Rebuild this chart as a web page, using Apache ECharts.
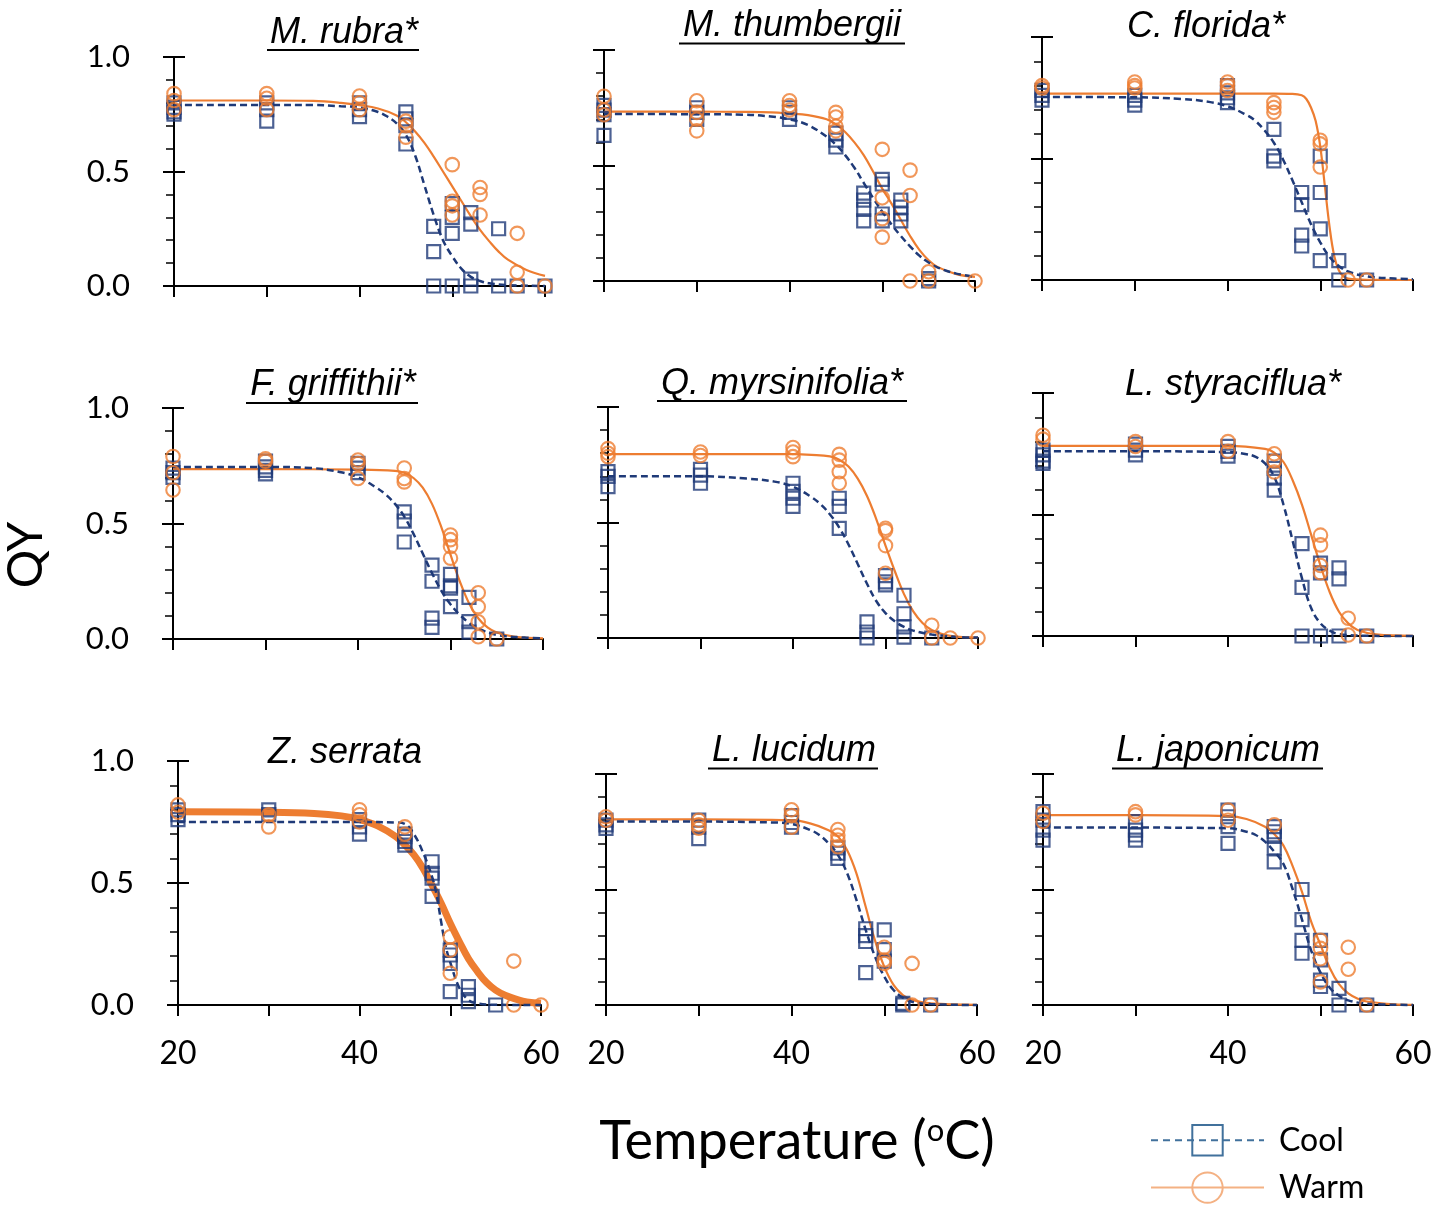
<!DOCTYPE html>
<html>
<head>
<meta charset="utf-8">
<title>QY vs temperature</title>
<script src="https://cdn.jsdelivr.net/npm/echarts@6/dist/echarts.min.js"></script>
<style>
  html, body { margin: 0; padding: 0; background: #fff; }
  #chart { width: 1437px; height: 1208px; }
</style>
</head>
<body>
<div id="chart"></div>
<script>
// panel titles, row by row
const species = ['M. rubra*', 'M. thumbergii', 'C. florida*',
  'F. griffithii*', 'Q. myrsinifolia*', 'L. styraciflua*',
  'Z. serrata', 'L. lucidum', 'L. japonicum']
const underlined = [true, true, false, true, true, false, false, true, true]

const xTicks = [20, 30, 40, 50, 60]
const xLabels = [20, 40, 60]
const yLabels = [0, 0.5, 1.0]

// measured QY, [temperature, QY]
const rubraCool = [[20, 0.80], [20, 0.78], [20, 0.76], [20, 0.75], [30, 0.80], [30, 0.77], [30, 0.72], [40, 0.80], [40, 0.77], [40, 0.74],
  [45, 0.76], [45, 0.73], [45, 0.70], [45, 0.62], [48, 0.26], [48, 0.15], [48, 0], [50, 0.36], [50, 0.30], [50, 0.23], [50, 0],
  [52, 0.32], [52, 0.27], [52, 0.03], [52, 0], [55, 0.25], [55, 0], [57, 0], [60, 0]]
const rubraWarm = [[20, 0.84], [20, 0.81], [20, 0.77], [30, 0.84], [30, 0.82], [30, 0.77], [40, 0.83], [40, 0.80], [40, 0.77],
  [45, 0.72], [45, 0.70], [45, 0.65], [50, 0.53], [50, 0.37], [50, 0.35], [50, 0.31], [53, 0.43], [53, 0.40], [53, 0.31],
  [57, 0.23], [57, 0.06], [57, 0], [60, 0]]
const thumbergiiCool = [[20, 0.76], [20, 0.74], [20, 0.72], [20, 0.63], [30, 0.75], [30, 0.73], [30, 0.70], [40, 0.75], [40, 0.73], [40, 0.70],
  [45, 0.64], [45, 0.61], [45, 0.58], [48, 0.38], [48, 0.35], [48, 0.31], [48, 0.26], [50, 0.44], [50, 0.42], [50, 0.29], [50, 0.26],
  [52, 0.35], [52, 0.32], [52, 0.29], [52, 0.26], [55, 0.01], [55, 0]]
const thumbergiiWarm = [[20, 0.80], [20, 0.74], [20, 0.72], [30, 0.78], [30, 0.73], [30, 0.70], [30, 0.65], [40, 0.78], [40, 0.76], [40, 0.74],
  [45, 0.73], [45, 0.71], [45, 0.67], [45, 0.65], [50, 0.57], [50, 0.36], [50, 0.27], [50, 0.19], [53, 0.48], [53, 0.37], [53, 0],
  [55, 0.04], [55, 0], [60, 0]]
const floridaCool = [[20, 0.78], [20, 0.76], [20, 0.74], [30, 0.76], [30, 0.74], [30, 0.72], [40, 0.80], [40, 0.77], [40, 0.75], [40, 0.73],
  [45, 0.62], [45, 0.51], [45, 0.49], [48, 0.36], [48, 0.31], [48, 0.185], [48, 0.14], [50, 0.51], [50, 0.36], [50, 0.21], [50, 0.08],
  [52, 0.08], [52, 0], [55, 0]]
const floridaWarm = [[20, 0.80], [20, 0.79], [30, 0.815], [30, 0.80], [30, 0.79], [40, 0.815], [40, 0.80], [40, 0.78],
  [45, 0.73], [45, 0.71], [45, 0.69], [50, 0.575], [50, 0.56], [50, 0.465], [53, 0], [55, 0]]
const griffithiiCool = [[20, 0.74], [20, 0.72], [20, 0.70], [30, 0.77], [30, 0.745], [30, 0.73], [30, 0.715], [40, 0.76], [40, 0.74], [40, 0.72],
  [45, 0.55], [45, 0.51], [45, 0.42], [48, 0.32], [48, 0.25], [48, 0.09], [48, 0.05], [50, 0.28], [50, 0.23], [50, 0.22], [50, 0.14],
  [52, 0.18], [52, 0.075], [52, 0.03], [55, 0]]
const griffithiiWarm = [[20, 0.79], [20, 0.72], [20, 0.645], [30, 0.78], [30, 0.77], [40, 0.775], [40, 0.76], [40, 0.695],
  [45, 0.74], [45, 0.695], [45, 0.68], [50, 0.45], [50, 0.43], [50, 0.40], [50, 0.35], [53, 0.20], [53, 0.14], [53, 0.075], [53, 0.01], [55, 0]]
const myrsinifoliaCool = [[20, 0.72], [20, 0.70], [20, 0.655], [30, 0.73], [30, 0.705], [30, 0.67], [40, 0.67], [40, 0.635], [40, 0.605], [40, 0.57],
  [45, 0.605], [45, 0.57], [45, 0.475], [48, 0.07], [48, 0.026], [48, 0], [50, 0.27], [50, 0.243], [50, 0.23],
  [52, 0.185], [52, 0.105], [52, 0.048], [52, 0.004], [55, 0]]
const myrsinifoliaWarm = [[20, 0.82], [20, 0.80], [20, 0.785], [30, 0.805], [30, 0.79], [40, 0.825], [40, 0.805], [40, 0.785],
  [45, 0.795], [45, 0.77], [45, 0.72], [45, 0.67], [50, 0.475], [50, 0.465], [50, 0.40], [50, 0.28], [55, 0.055], [55, 0], [57, 0], [60, 0]]
const styracifluaCool = [[20, 0.765], [20, 0.745], [20, 0.72], [20, 0.71], [30, 0.79], [30, 0.765], [30, 0.745], [40, 0.78], [40, 0.76], [40, 0.74],
  [45, 0.72], [45, 0.69], [45, 0.65], [45, 0.60], [48, 0.38], [48, 0.20], [48, 0], [50, 0.30], [50, 0.26], [50, 0],
  [52, 0.28], [52, 0.235], [52, 0], [55, 0]]
const styracifluaWarm = [[20, 0.826], [20, 0.81], [30, 0.80], [30, 0.78], [40, 0.80], [40, 0.76], [45, 0.75], [45, 0.72], [45, 0.675],
  [50, 0.415], [50, 0.375], [50, 0.29], [50, 0.26], [53, 0.073], [53, 0.004], [55, 0]]
const serrataCool = [[20, 0.80], [20, 0.78], [20, 0.76], [30, 0.80], [30, 0.78], [40, 0.76], [40, 0.73], [40, 0.70],
  [45, 0.70], [45, 0.69], [45, 0.67], [45, 0.655], [48, 0.587], [48, 0.54], [48, 0.52], [48, 0.445], [50, 0.225], [50, 0.205], [50, 0.17], [50, 0.055],
  [52, 0.075], [52, 0.04], [52, 0.014], [55, 0]]
const serrataWarm = [[20, 0.82], [20, 0.79], [30, 0.78], [30, 0.73], [40, 0.80], [40, 0.78], [40, 0.75], [45, 0.73], [45, 0.70],
  [50, 0.28], [50, 0.225], [50, 0.13], [57, 0.18], [57, 0], [60, 0]]
const lucidumCool = [[20, 0.80], [20, 0.78], [20, 0.765], [30, 0.80], [30, 0.77], [30, 0.72], [40, 0.82], [40, 0.79], [40, 0.77],
  [45, 0.68], [45, 0.657], [45, 0.635], [48, 0.33], [48, 0.30], [48, 0.275], [48, 0.14], [50, 0.325], [50, 0.24], [50, 0.19],
  [52, 0.007], [52, 0], [55, 0]]
const lucidumWarm = [[20, 0.815], [20, 0.80], [30, 0.80], [30, 0.78], [30, 0.765], [40, 0.845], [40, 0.82], [40, 0.77],
  [45, 0.76], [45, 0.735], [45, 0.714], [45, 0.685], [50, 0.25], [50, 0.195], [50, 0.18], [53, 0.18], [53, 0], [55, 0]]
const japonicumCool = [[20, 0.837], [20, 0.80], [20, 0.757], [20, 0.714], [30, 0.794], [30, 0.757], [30, 0.736], [30, 0.714],
  [40, 0.844], [40, 0.815], [40, 0.772], [40, 0.70], [45, 0.772], [45, 0.75], [45, 0.73], [45, 0.68], [45, 0.62],
  [48, 0.50], [48, 0.37], [48, 0.28], [48, 0.224], [50, 0.28], [50, 0.195], [50, 0.108], [50, 0.08], [52, 0.072], [52, 0], [55, 0]]
const japonicumWarm = [[20, 0.83], [20, 0.794], [30, 0.837], [30, 0.823], [40, 0.844], [40, 0.80], [45, 0.78],
  [50, 0.28], [50, 0.245], [50, 0.20], [50, 0.10], [53, 0.25], [53, 0.155], [55, 0]]

// fitted curves at these temperatures
const rubraCoolFit = [[20, 0.79], [30, 0.79], [35, 0.79], [38, 0.785], [40, 0.78], [42, 0.76], [43, 0.74], [44, 0.71], [45, 0.66], [46, 0.57],
  [47, 0.44], [48, 0.31], [49, 0.20], [50, 0.13], [51, 0.075], [52, 0.04], [53, 0.022], [54, 0.012], [56, 0.004], [60, 0]]
const rubraWarmFit = [[20, 0.81], [30, 0.81], [35, 0.808], [38, 0.80], [40, 0.79], [42, 0.775], [44, 0.745], [45, 0.715], [46, 0.675], [47, 0.625],
  [48, 0.565], [49, 0.50], [50, 0.435], [51, 0.37], [52, 0.305], [53, 0.245], [54, 0.195], [55, 0.15], [56, 0.115], [58, 0.07], [60, 0.044]]
const thumbergiiCoolFit = [[20, 0.723], [30, 0.722], [35, 0.72], [38, 0.712], [40, 0.70], [42, 0.675], [44, 0.625], [45, 0.59], [46, 0.545], [47, 0.49],
  [48, 0.425], [49, 0.36], [50, 0.30], [51, 0.245], [52, 0.195], [53, 0.15], [54, 0.11], [55, 0.08], [56, 0.058], [58, 0.032], [60, 0.018]]
const thumbergiiWarmFit = [[20, 0.733], [30, 0.733], [35, 0.732], [38, 0.73], [40, 0.725], [42, 0.718], [44, 0.70], [45, 0.678], [46, 0.645], [47, 0.60],
  [48, 0.545], [49, 0.475], [50, 0.40], [51, 0.335], [52, 0.265], [53, 0.195], [54, 0.135], [55, 0.09], [56, 0.06], [58, 0.03], [60, 0.018]]
const floridaCoolFit = [[20, 0.753], [30, 0.752], [35, 0.745], [38, 0.733], [40, 0.715], [42, 0.68], [43, 0.655], [44, 0.615], [45, 0.565], [46, 0.495],
  [47, 0.41], [48, 0.32], [49, 0.23], [50, 0.155], [51, 0.095], [52, 0.058], [53, 0.035], [55, 0.015], [58, 0.006], [60, 0.003]]
const floridaWarmFit = [[20, 0.767], [30, 0.767], [40, 0.767], [45, 0.767], [47, 0.766], [48, 0.76], [48.5, 0.745], [49, 0.71], [49.5, 0.655],
  [50, 0.55], [50.5, 0.385], [51, 0.22], [51.5, 0.10], [52, 0.04], [52.5, 0.015], [53, 0.006], [55, 0.001], [60, 0]]
const griffithiiCoolFit = [[20, 0.745], [30, 0.745], [35, 0.74], [38, 0.723], [40, 0.70], [42, 0.655], [43, 0.625], [44, 0.585], [45, 0.53], [46, 0.455],
  [47, 0.37], [48, 0.285], [49, 0.21], [50, 0.15], [51, 0.105], [52, 0.07], [53, 0.045], [55, 0.018], [58, 0.006], [60, 0.003]]
const griffithiiWarmFit = [[20, 0.735], [30, 0.735], [40, 0.733], [44, 0.728], [45, 0.72], [46, 0.697], [47, 0.655], [48, 0.585], [49, 0.485],
  [50, 0.365], [51, 0.25], [52, 0.155], [53, 0.09], [54, 0.05], [55, 0.028], [57, 0.009], [60, 0.003]]
const myrsinifoliaCoolFit = [[20, 0.70], [30, 0.70], [35, 0.69], [38, 0.677], [40, 0.655], [42, 0.61], [43, 0.578], [44, 0.535], [45, 0.478], [46, 0.405],
  [47, 0.32], [48, 0.235], [49, 0.16], [50, 0.108], [51, 0.072], [52, 0.048], [53, 0.032], [55, 0.015], [58, 0.004], [60, 0.002]]
const myrsinifoliaWarmFit = [[20, 0.796], [30, 0.796], [40, 0.796], [42, 0.793], [44, 0.786], [45, 0.772], [46, 0.742], [47, 0.69], [48, 0.615],
  [49, 0.515], [50, 0.40], [51, 0.29], [52, 0.19], [53, 0.115], [54, 0.065], [55, 0.035], [57, 0.009], [60, 0.002]]
const styracifluaCoolFit = [[20, 0.76], [30, 0.76], [40, 0.757], [42, 0.748], [43, 0.737], [44, 0.71], [45, 0.655], [46, 0.54], [47, 0.39],
  [48, 0.237], [49, 0.114], [50, 0.052], [51, 0.022], [52, 0.008], [55, 0.001], [60, 0]]
const styracifluaWarmFit = [[20, 0.782], [30, 0.782], [40, 0.782], [44, 0.77], [45, 0.755], [46, 0.716], [47, 0.64], [48, 0.54], [49, 0.415],
  [50, 0.29], [51, 0.18], [52, 0.10], [53, 0.052], [54, 0.025], [56, 0.007], [60, 0.001]]
const serrataCoolFit = [[20, 0.75], [30, 0.75], [40, 0.75], [44, 0.748], [45, 0.742], [46, 0.70], [47, 0.625], [48, 0.525], [48.5, 0.45],
  [49, 0.34], [49.5, 0.24], [50, 0.175], [51, 0.07], [52, 0.02], [53, 0.006], [55, 0.001], [60, 0]]
const serrataWarmFit = [[20, 0.792], [30, 0.79], [35, 0.785], [38, 0.775], [40, 0.76], [42, 0.734], [44, 0.69], [45, 0.656], [46, 0.615], [47, 0.56],
  [48, 0.49], [49, 0.417], [50, 0.335], [51, 0.26], [52, 0.19], [53, 0.137], [54, 0.092], [55, 0.061], [56, 0.041], [58, 0.016], [60, 0.007]]
const lucidumCoolFit = [[20, 0.794], [30, 0.794], [38, 0.79], [40, 0.784], [42, 0.758], [43, 0.736], [44, 0.70], [45, 0.65], [46, 0.57], [47, 0.455],
  [48, 0.325], [49, 0.21], [50, 0.123], [51, 0.065], [52, 0.032], [53, 0.014], [55, 0.004], [60, 0]]
const lucidumWarmFit = [[20, 0.804], [30, 0.804], [40, 0.80], [42, 0.786], [44, 0.757], [45, 0.73], [46, 0.67], [47, 0.57], [48, 0.425],
  [49, 0.28], [50, 0.166], [51, 0.087], [52, 0.043], [53, 0.022], [55, 0.007], [60, 0.001]]
const japonicumCoolFit = [[20, 0.768], [30, 0.768], [40, 0.765], [42, 0.75], [43, 0.736], [44, 0.707], [45, 0.664], [46, 0.61], [47, 0.50],
  [48, 0.37], [49, 0.235], [50, 0.14], [51, 0.075], [52, 0.04], [53, 0.02], [55, 0.006], [60, 0]]
const japonicumWarmFit = [[20, 0.822], [30, 0.822], [40, 0.818], [42, 0.805], [44, 0.772], [45, 0.74], [46, 0.69], [47, 0.60], [48, 0.49],
  [49, 0.36], [50, 0.26], [51, 0.16], [52, 0.09], [53, 0.05], [54, 0.028], [55, 0.015], [58, 0.003], [60, 0.001]]

const coolPts = [rubraCool, thumbergiiCool, floridaCool, griffithiiCool, myrsinifoliaCool, styracifluaCool, serrataCool, lucidumCool, japonicumCool]
const warmPts = [rubraWarm, thumbergiiWarm, floridaWarm, griffithiiWarm, myrsinifoliaWarm, styracifluaWarm, serrataWarm, lucidumWarm, japonicumWarm]
const coolFits = [rubraCoolFit, thumbergiiCoolFit, floridaCoolFit, griffithiiCoolFit, myrsinifoliaCoolFit, styracifluaCoolFit, serrataCoolFit, lucidumCoolFit, japonicumCoolFit]
const warmFits = [rubraWarmFit, thumbergiiWarmFit, floridaWarmFit, griffithiiWarmFit, myrsinifoliaWarmFit, styracifluaWarmFit, serrataWarmFit, lucidumWarmFit, japonicumWarmFit]

const boxes = [
  [174, 57, 371, 229], [604, 50, 371, 231], [1042, 37, 371, 243],
  [173, 408, 370, 231], [608, 407, 370, 231], [1043, 393, 370, 243],
  [178, 761, 363, 244], [606, 774, 371, 231], [1043, 774, 370, 231]
]
// title centre [x, y] and underline [x1, x2, y]
const titlePos = [[344, 33], [792, 26], [1206, 27], [333, 385], [782, 384], [1233, 385], [345, 753], [794, 751], [1218, 751]]
const underlinePos = [[267, 419, 50], [679, 905, 43.5], null, [246, 418, 403], [657, 907, 401], null, null, [708, 878, 768.5], [1112, 1323, 768.5]]

const coolColor = '#1f3a78'
const warmColor = '#ed7d31'
const labelFont = 'Lato, "Open Sans", sans-serif'

const chart = echarts.init(document.getElementById('chart'))

const grid = []
const xAxis = []
const yAxis = []
const series = []
const graphic = []

boxes.forEach((b, i) => {
  const bottomRow = i >= 6
  const firstCol = i % 3 === 0
  grid.push({ left: b[0], top: b[1], width: b[2], height: b[3], containLabel: false, outerBoundsMode: 'none' })
  xAxis.push({
    gridIndex: i, type: 'value', min: xTicks[0], max: xTicks[xTicks.length - 1], interval: 10,
    axisLine: { onZero: false, lineStyle: { color: '#000', width: 2 } },
    axisTick: { length: 11, lineStyle: { color: '#000', width: 2 } },
    splitLine: { show: false },
    axisLabel: {
      show: bottomRow, margin: 33, color: '#000', fontSize: 32, fontFamily: labelFont,
      formatter: v => (xLabels.includes(v) ? String(v) : '')
    }
  })
  // outward ticks with labels
  yAxis.push({
    gridIndex: i, type: 'value', min: 0, max: 1, interval: 0.5, position: 'left',
    axisLine: { show: true, onZero: false, lineStyle: { color: '#000', width: 2 } },
    axisTick: { show: true, length: 11, lineStyle: { color: '#000', width: 2 } },
    minorTick: { show: true, splitNumber: 5, length: 8, lineStyle: { color: '#000', width: 1.5 } },
    splitLine: { show: false },
    axisLabel: {
      show: firstCol, margin: 44, color: '#000', fontSize: 31, fontFamily: labelFont,
      formatter: v => (yLabels.includes(v) ? v.toFixed(1) : '')
    }
  })
  // inward half of the major ticks
  yAxis.push({
    gridIndex: i, type: 'value', min: 0, max: 1, interval: 0.5, position: 'left',
    axisLine: { show: false },
    axisTick: { show: true, inside: true, length: 11, lineStyle: { color: '#000', width: 2 } },
    splitLine: { show: false },
    axisLabel: { show: false }
  })

  series.push({
    name: 'Cool', type: 'line', xAxisIndex: i, yAxisIndex: i * 2, data: coolFits[i],
    smooth: 0.4, showSymbol: false, symbol: 'rect', clip: false, silent: true, z: 3,
    itemStyle: { color: coolColor },
    lineStyle: { color: coolColor, width: 2.5, type: [7, 4] }
  })
  series.push({
    name: 'Warm', type: 'line', xAxisIndex: i, yAxisIndex: i * 2, data: warmFits[i],
    smooth: 0.4, showSymbol: false, symbol: 'circle', clip: false, silent: true, z: 2,
    itemStyle: { color: warmColor },
    lineStyle: { color: warmColor, width: i === 6 ? 7 : 2.2 }
  })
  series.push({
    name: 'Cool', type: 'scatter', xAxisIndex: i, yAxisIndex: i * 2, data: coolPts[i],
    symbol: 'rect', symbolSize: 13, clip: false, silent: true, z: 4,
    itemStyle: { color: 'rgba(0,0,0,0)', borderColor: coolColor, borderWidth: 2.2 }
  })
  series.push({
    name: 'Warm', type: 'scatter', xAxisIndex: i, yAxisIndex: i * 2, data: warmPts[i],
    symbol: 'circle', symbolSize: 13.5, clip: false, silent: true, z: 4,
    itemStyle: { color: 'rgba(0,0,0,0)', borderColor: warmColor, borderWidth: 2.1 }
  })

  graphic.push({
    type: 'text', x: titlePos[i][0], y: titlePos[i][1], silent: true,
    style: {
      text: species[i], fill: '#000', font: 'italic 36px "Liberation Sans", Arial, sans-serif',
      align: 'center', verticalAlign: 'middle', textAlign: 'center', textVerticalAlign: 'middle'
    }
  })
  if (underlined[i]) {
    const u = underlinePos[i]
    graphic.push({
      type: 'line', silent: true,
      shape: { x1: u[0], y1: u[2], x2: u[1], y2: u[2] },
      style: { stroke: '#000', lineWidth: 2 }
    })
  }
})

// axis titles
graphic.push({
  type: 'text', x: 27, y: 555, rotation: Math.PI / 2, silent: true,
  style: {
    text: 'QY', fill: '#000', font: '48px ' + labelFont,
    align: 'center', verticalAlign: 'middle', textAlign: 'center', textVerticalAlign: 'middle'
  }
})
graphic.push({
  type: 'text', x: 797, y: 1142, silent: true,
  style: {
    text: 'Temperature ({sup|o}C)', fill: '#000', font: '54px ' + labelFont,
    align: 'center', verticalAlign: 'middle', textAlign: 'center', textVerticalAlign: 'middle',
    rich: { sup: { fontSize: 31, fontFamily: labelFont, fill: '#000', verticalAlign: 'top', padding: [0, 0, 16, 0] } }
  }
})

chart.setOption({
  animation: false,
  backgroundColor: '#fff',
  grid: grid,
  xAxis: xAxis,
  yAxis: yAxis,
  legend: {
    orient: 'vertical', left: 1150, top: 1124, padding: 0,
    itemWidth: 113, itemHeight: 38, itemGap: 15, selectedMode: false,
    textStyle: { fontSize: 32, fontFamily: labelFont, color: '#000', padding: [0, 0, 0, 10] },
    data: [
      {
        name: 'Cool',
        itemStyle: { color: 'rgba(0,0,0,0)', borderColor: '#41719c', borderWidth: 2 },
        lineStyle: { color: '#41719c', width: 2, type: [7, 5] }
      },
      {
        name: 'Warm',
        itemStyle: { color: 'rgba(0,0,0,0)', borderColor: '#f4b183', borderWidth: 2 },
        lineStyle: { color: '#f4b183', width: 2, type: 'solid' }
      }
    ]
  },
  graphic: graphic,
  series: series
})
</script>
</body>
</html>
